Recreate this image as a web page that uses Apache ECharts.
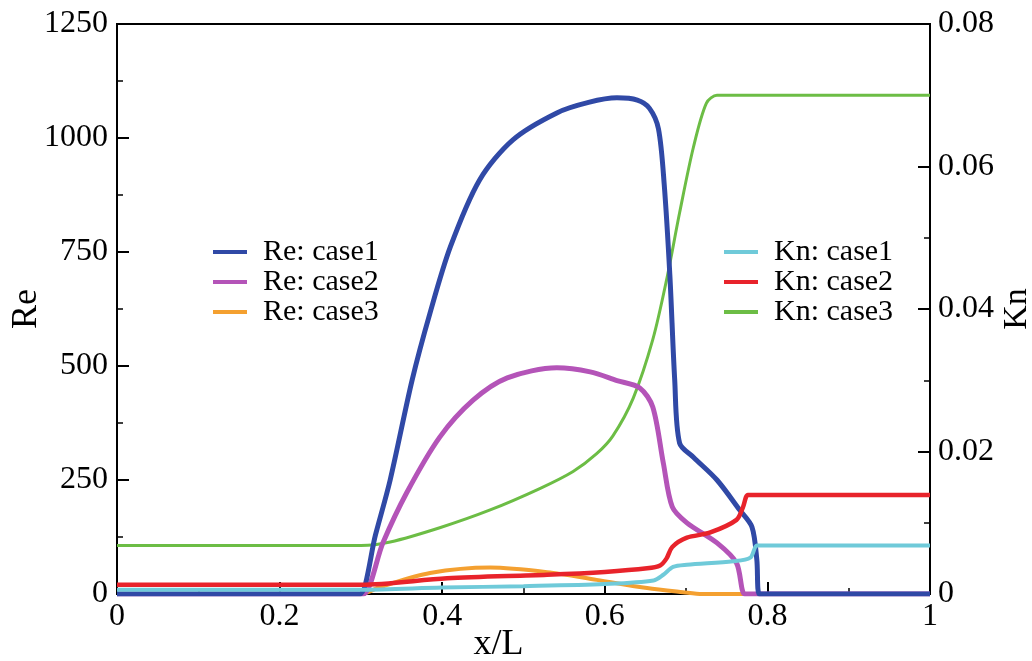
<!DOCTYPE html>
<html>
<head>
<meta charset="utf-8">
<script src="https://cdn.jsdelivr.net/npm/echarts@6/dist/echarts.min.js"></script>
<style>
  html, body { margin: 0; padding: 0; background: #fff; }
  #main { width: 1032px; height: 661px; }
</style>
</head>
<body>
<div id="main"></div>
<script>
// Re (left axis) and Kn (right axis) along x/L
var reCase1X = [0, 0.29, 0.299, 0.318, 0.336, 0.363, 0.385, 0.41, 0.446, 0.487, 0.541, 0.58, 0.615, 0.64, 0.655, 0.666, 0.673, 0.68, 0.686, 0.692, 0.709, 0.738, 0.766, 0.781, 0.787, 0.79, 0.8, 1];
var reCase1Y = [0, 0, 0, 130, 250, 469, 616, 761, 908, 996, 1055, 1078, 1088, 1083, 1065, 1020, 900, 700, 469, 331, 300, 250, 184, 147, 75, 0, 0, 0];

var reCase2X = [0, 0.293, 0.303, 0.327, 0.356, 0.397, 0.438, 0.48, 0.541, 0.582, 0.615, 0.643, 0.659, 0.672, 0.683, 0.701, 0.738, 0.762, 0.772, 0.782, 1];
var reCase2Y = [0, 0, 0, 112, 221, 344, 425, 474, 496, 487, 468, 452, 410, 287, 191, 156, 112, 68, 0, 0, 0];

var reCase3X = [0, 0.29, 0.3, 0.323, 0.385, 0.459, 0.529, 0.59, 0.652, 0.696, 0.72, 0.73, 1];
var reCase3Y = [0, 0, 0, 15, 46, 58, 48, 31, 13, 4, 0, 0, 0];

var knCase1X = [0, 0.29, 0.3, 0.4, 0.5, 0.6, 0.66, 0.672, 0.684, 0.701, 0.758, 0.779, 0.787, 0.797, 1];
var knCase1Y = [0.0006, 0.0006, 0.0006, 0.0009, 0.0011, 0.0014, 0.0019, 0.0027, 0.0038, 0.0041, 0.0046, 0.0051, 0.0068, 0.0068, 0.0068];

var knCase2X = [0, 0.29, 0.3, 0.406, 0.529, 0.6, 0.652, 0.668, 0.676, 0.683, 0.701, 0.729, 0.762, 0.77, 0.776, 0.786, 1];
var knCase2Y = [0.0013, 0.0013, 0.0013, 0.0022, 0.0027, 0.0031, 0.0036, 0.004, 0.005, 0.0066, 0.0079, 0.0086, 0.0104, 0.0122, 0.0139, 0.0139, 0.0139];

var knCase3X = [0, 0.29, 0.3, 0.336, 0.397, 0.459, 0.52, 0.561, 0.59, 0.61, 0.635, 0.659, 0.676, 0.692, 0.709, 0.725, 0.738, 0.75, 1];
var knCase3Y = [0.0068, 0.0068, 0.0068, 0.0073, 0.0093, 0.0118, 0.0148, 0.0172, 0.0197, 0.0222, 0.0275, 0.0357, 0.0441, 0.0535, 0.0627, 0.0689, 0.07, 0.07, 0.07];

var reTicks = [0, 250, 500, 750, 1000, 1250];
var knTicks = [0, 0.02, 0.04, 0.06, 0.08];
var xTicks = [0, 0.2, 0.4, 0.6, 0.8, 1];

function pairs(xs, ys) {
  return xs.map(function (x, i) { return [x, ys[i]]; });
}

var FONT = "Liberation Serif";

function mkSeries(name, xs, ys, color, width, axis) {
  return {
    name: name,
    type: "line",
    yAxisIndex: axis,
    data: pairs(xs, ys),
    symbol: "none",
    smooth: 0.3,
    color: color,
    lineStyle: { color: color, width: width },
    emphasis: { disabled: true }
  };
}

var legendBase = {
  orient: "vertical",
  icon: "rect",
  itemWidth: 34,
  itemHeight: 4,
  itemGap: 0,
  selectedMode: false,
  textStyle: { fontFamily: FONT, fontSize: 30, color: "#000", lineHeight: 28.5, padding: [0, 0, 0, 11] }
};

var myChart = echarts.init(document.getElementById("main"));
myChart.setOption({
  animation: false,
  backgroundColor: "#fff",
  grid: {
    left: 117, right: 102, top: 24, bottom: 67,
    outerBoundsMode: "none",
    show: true, borderColor: "#000", borderWidth: 2
  },
  legend: [
    Object.assign({}, legendBase, { left: 208, top: 232, data: ["Re: case1", "Re: case2", "Re: case3"] }),
    Object.assign({}, legendBase, { left: 719, top: 232, data: ["Kn: case1", "Kn: case2", "Kn: case3"] })
  ],
  xAxis: {
    type: "value",
    min: 0, max: 1, interval: 0.2,
    name: "x/L",
    nameLocation: "middle",
    nameGap: 33,
    nameMoveOverlap: false,
    nameTextStyle: { fontFamily: FONT, fontSize: 36, color: "#000", padding: [0, 50, 0, 0] },
    axisLine: { lineStyle: { color: "#000", width: 2 } },
    axisTick: { inside: true, length: 12, lineStyle: { color: "#000", width: 2 } },
    minorTick: { show: true, splitNumber: 2, length: 6, lineStyle: { color: "#000", width: 1.5 } },
    axisLabel: {
      fontFamily: FONT, fontSize: 32, color: "#000", margin: 7,
      formatter: function (v) { return xTicks.indexOf(v) >= 0 ? String(v) : ""; }
    },
    splitLine: { show: false }
  },
  yAxis: [
    {
      type: "value",
      min: 0, max: 1250, interval: 250,
      name: "Re",
      nameLocation: "middle",
      nameRotate: 90,
      nameGap: 72,
      nameMoveOverlap: false,
      nameTextStyle: { fontFamily: FONT, fontSize: 36, color: "#000" },
      axisLine: { show: true, lineStyle: { color: "#000", width: 2 } },
      axisTick: { inside: true, length: 12, lineStyle: { color: "#000", width: 2 } },
      minorTick: { show: true, splitNumber: 2, length: 6, lineStyle: { color: "#000", width: 1.5 } },
      axisLabel: {
        fontFamily: FONT, fontSize: 32, color: "#000", margin: 9,
        formatter: function (v) { return reTicks.indexOf(v) >= 0 ? String(v) : ""; }
      },
      splitLine: { show: false }
    },
    {
      type: "value",
      position: "right",
      min: 0, max: 0.08, interval: 0.02,
      name: "Kn",
      nameLocation: "middle",
      nameRotate: 90,
      nameGap: 70,
      nameMoveOverlap: false,
      nameTextStyle: { fontFamily: FONT, fontSize: 34, color: "#000" },
      axisLine: { show: true, lineStyle: { color: "#000", width: 2 } },
      axisTick: { inside: true, length: 12, lineStyle: { color: "#000", width: 2 } },
      minorTick: { show: true, splitNumber: 2, length: 6, lineStyle: { color: "#000", width: 1.5 } },
      axisLabel: {
        fontFamily: FONT, fontSize: 32, color: "#000", margin: 8,
        formatter: function (v) {
          for (var i = 0; i < knTicks.length; i++) {
            if (Math.abs(knTicks[i] - v) < 1e-9) return v === 0 ? "0" : v.toFixed(2);
          }
          return "";
        }
      },
      splitLine: { show: false }
    }
  ],
  series: [
    mkSeries("Kn: case3", knCase3X, knCase3Y, "#6cbd45", 3, 1),
    mkSeries("Re: case3", reCase3X, reCase3Y, "#f4a030", 4, 0),
    mkSeries("Re: case2", reCase2X, reCase2Y, "#b454b8", 5, 0),
    mkSeries("Re: case1", reCase1X, reCase1Y, "#3049a6", 5, 0),
    mkSeries("Kn: case1", knCase1X, knCase1Y, "#6fcad9", 4, 1),
    mkSeries("Kn: case2", knCase2X, knCase2Y, "#e8232b", 4.5, 1)
  ]
});
</script>
</body>
</html>
